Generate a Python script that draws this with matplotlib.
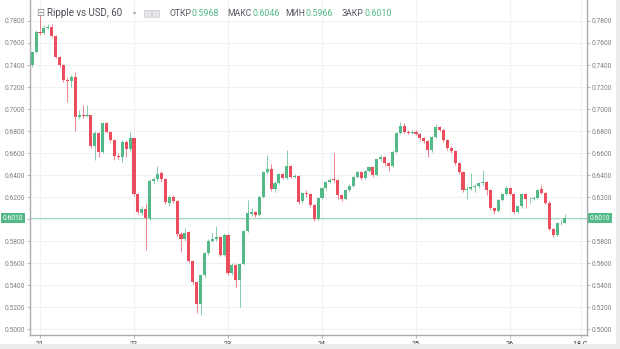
import matplotlib
matplotlib.use("Agg")
import matplotlib.pyplot as plt
import matplotlib.patches as mpatches
import numpy as np

# hourly XRP/USD candles, first bar is 20th 22:00
opens = [
    0.7400, 0.7520, 0.7700, 0.7690, 0.7740, 0.7745, 0.7660, 0.7475, 0.7400, 0.7264,
    0.7255, 0.7294, 0.6925, 0.6945, 0.6940, 0.6945, 0.6666, 0.6780, 0.6612, 0.6870,
    0.6794, 0.6718, 0.6573, 0.6563, 0.6703, 0.6634, 0.6733, 0.6225, 0.6057, 0.6090,
    0.6007, 0.6348, 0.6361, 0.6421, 0.6361, 0.6150, 0.6200, 0.6164, 0.5864, 0.5818,
    0.5885, 0.5621, 0.5430, 0.5227, 0.5491, 0.5688, 0.5803, 0.5815, 0.5834, 0.5673,
    0.5855, 0.5506, 0.5582, 0.5445, 0.5591, 0.5894, 0.6045, 0.6060, 0.6040, 0.6203,
    0.6424, 0.6457, 0.6270, 0.6330, 0.6406, 0.6376, 0.6482, 0.6385, 0.6392, 0.6165,
    0.6236, 0.6227, 0.6127, 0.5997, 0.6188, 0.6279, 0.6339, 0.6365, 0.6355, 0.6218,
    0.6179, 0.6261, 0.6300, 0.6380, 0.6427, 0.6370, 0.6439, 0.6470, 0.6400, 0.6543,
    0.6560, 0.6506, 0.6480, 0.6612, 0.6779, 0.6845, 0.6794, 0.6780, 0.6794, 0.6775,
    0.6733, 0.6712, 0.6627, 0.6743, 0.6840, 0.6810, 0.6718, 0.6643, 0.6620, 0.6506,
    0.6430, 0.6264, 0.6273, 0.6290, 0.6300, 0.6325, 0.6335, 0.6264, 0.6100, 0.6070,
    0.6173, 0.6227, 0.6285, 0.6227, 0.6067, 0.6119, 0.6227, 0.6180, 0.6185, 0.6190,
    0.6270, 0.6240, 0.6150, 0.5910, 0.5855, 0.5960, 0.5968,
]
closes = [
    0.7520, 0.7700, 0.7690, 0.7740, 0.7745, 0.7660, 0.7475, 0.7400, 0.7264, 0.7255,
    0.7294, 0.6925, 0.6945, 0.6940, 0.6945, 0.6666, 0.6780, 0.6612, 0.6870, 0.6794,
    0.6718, 0.6573, 0.6563, 0.6703, 0.6634, 0.6733, 0.6225, 0.6067, 0.6090, 0.6007,
    0.6348, 0.6361, 0.6409, 0.6361, 0.6158, 0.6200, 0.6164, 0.5864, 0.5818, 0.5876,
    0.5621, 0.5430, 0.5227, 0.5491, 0.5688, 0.5803, 0.5815, 0.5834, 0.5673, 0.5855,
    0.5506, 0.5582, 0.5445, 0.5591, 0.5894, 0.6057, 0.6060, 0.6040, 0.6203, 0.6424,
    0.6457, 0.6270, 0.6330, 0.6406, 0.6376, 0.6482, 0.6385, 0.6392, 0.6158, 0.6236,
    0.6227, 0.6127, 0.5997, 0.6188, 0.6279, 0.6339, 0.6355, 0.6355, 0.6218, 0.6179,
    0.6261, 0.6300, 0.6380, 0.6427, 0.6370, 0.6439, 0.6470, 0.6400, 0.6543, 0.6560,
    0.6506, 0.6480, 0.6612, 0.6779, 0.6845, 0.6794, 0.6780, 0.6794, 0.6775, 0.6733,
    0.6712, 0.6627, 0.6743, 0.6840, 0.6810, 0.6718, 0.6643, 0.6620, 0.6506, 0.6430,
    0.6264, 0.6273, 0.6290, 0.6300, 0.6325, 0.6335, 0.6264, 0.6100, 0.6070, 0.6173,
    0.6227, 0.6285, 0.6227, 0.6067, 0.6119, 0.6227, 0.6180, 0.6185, 0.6190, 0.6260,
    0.6240, 0.6150, 0.5910, 0.5855, 0.5960, 0.5968, 0.6010,
]
highs = [
    0.7530, 0.7720, 0.7850, 0.7760, 0.7770, 0.7770, 0.7670, 0.7480, 0.7410, 0.7290,
    0.7310, 0.7340, 0.6990, 0.7040, 0.7035, 0.6950, 0.6800, 0.6790, 0.6880, 0.6880,
    0.6800, 0.6730, 0.6600, 0.6715, 0.6720, 0.6790, 0.6740, 0.6240, 0.6120, 0.6150,
    0.6360, 0.6380, 0.6480, 0.6440, 0.6370, 0.6220, 0.6215, 0.6175, 0.5880, 0.5920,
    0.5890, 0.5630, 0.5440, 0.5500, 0.5700, 0.5820, 0.5870, 0.5936, 0.5850, 0.5870,
    0.5860, 0.5600, 0.5590, 0.5600, 0.5900, 0.6170, 0.6100, 0.6075, 0.6215, 0.6440,
    0.6582, 0.6500, 0.6345, 0.6420, 0.6420, 0.6627, 0.6490, 0.6410, 0.6400, 0.6250,
    0.6260, 0.6240, 0.6140, 0.6200, 0.6290, 0.6350, 0.6370, 0.6600, 0.6365, 0.6230,
    0.6275, 0.6315, 0.6395, 0.6440, 0.6440, 0.6450, 0.6485, 0.6480, 0.6555, 0.6580,
    0.6570, 0.6515, 0.6625, 0.6790, 0.6885, 0.6870, 0.6805, 0.6805, 0.6805, 0.6785,
    0.6745, 0.6720, 0.6755, 0.6860, 0.6850, 0.6820, 0.6725, 0.6660, 0.6630, 0.6515,
    0.6440, 0.6300, 0.6420, 0.6320, 0.6340, 0.6445, 0.6345, 0.6270, 0.6110, 0.6185,
    0.6240, 0.6300, 0.6295, 0.6240, 0.6130, 0.6240, 0.6235, 0.6200, 0.6210, 0.6275,
    0.6310, 0.6250, 0.6160, 0.5920, 0.5970, 0.5990, 0.6046,
]
lows = [
    0.7380, 0.7510, 0.7670, 0.7680, 0.7730, 0.7650, 0.7460, 0.7380, 0.7250, 0.7060,
    0.7200, 0.6800, 0.6910, 0.6920, 0.6930, 0.6650, 0.6540, 0.6560, 0.6600, 0.6780,
    0.6700, 0.6540, 0.6545, 0.6520, 0.6560, 0.6620, 0.6210, 0.6050, 0.6040, 0.5720,
    0.5990, 0.6320, 0.6350, 0.6340, 0.6140, 0.6120, 0.6150, 0.5850, 0.5700, 0.5800,
    0.5600, 0.5410, 0.5146, 0.5130, 0.5470, 0.5670, 0.5790, 0.5800, 0.5660, 0.5660,
    0.5490, 0.5490, 0.5385, 0.5200, 0.5580, 0.5880, 0.6030, 0.6020, 0.6030, 0.6190,
    0.6410, 0.6255, 0.6250, 0.6320, 0.6360, 0.6365, 0.6370, 0.6370, 0.6140, 0.6150,
    0.6200, 0.6110, 0.5985, 0.5990, 0.6180, 0.6260, 0.6330, 0.6340, 0.6180, 0.6160,
    0.6170, 0.6250, 0.6290, 0.6370, 0.6355, 0.6360, 0.6430, 0.6380, 0.6390, 0.6530,
    0.6480, 0.6440, 0.6470, 0.6600, 0.6770, 0.6785, 0.6770, 0.6770, 0.6760, 0.6720,
    0.6690, 0.6560, 0.6610, 0.6735, 0.6800, 0.6700, 0.6630, 0.6600, 0.6490, 0.6410,
    0.6250, 0.6180, 0.6260, 0.6250, 0.6280, 0.6310, 0.6220, 0.6085, 0.6050, 0.6060,
    0.6160, 0.6215, 0.6215, 0.6050, 0.6055, 0.6100, 0.6100, 0.6150, 0.6170, 0.6180,
    0.6230, 0.6140, 0.5900, 0.5840, 0.5845, 0.5950, 0.5966,
]
price_ticks = [0.50, 0.52, 0.54, 0.56, 0.58, 0.60, 0.62, 0.64, 0.66, 0.68, 0.70, 0.72, 0.74, 0.76, 0.78]
day_hours = [0, 24, 48, 72, 96, 120, 138]
day_labels = ["21", "22", "23", "24", "25", "26", "18 C"]
last_price = 0.6010
header = [("ОТКР", "0.5968"), ("МАКС", "0.6046"), ("МИН", "0.5966"), ("ЗАКР", "0.6010")]

UP, DOWN = "#53b987", "#eb4d5c"
GRID = "#f0f1f4"
TXT = "#7b7e86"
plt.rcParams["font.family"] = ["Roboto", "DejaVu Sans"]

o = np.array(opens); c = np.array(closes)
h = np.array(highs); lo = np.array(lows)
hrs = np.arange(len(o)) - 2          # hours since 21st 00:00
up = c >= o
colors = np.where(up, UP, DOWN)

W, H = 620, 349
fig = plt.figure(figsize=(W / 100, H / 100), dpi=100, facecolor="white")
ax = fig.add_axes([30 / W, 14 / H, 557 / W, 335 / H])

# candles: wick + body
ax.vlines(hrs, lo, h, colors=colors, linewidth=0.7, alpha=0.7, zorder=2)
body = np.maximum(np.abs(c - o), 0.0004)
ax.bar(hrs, body, bottom=np.minimum(o, c), width=0.78, color=colors,
       linewidth=0, zorder=3)

# last-price line
ax.axhline(last_price, color=UP, linewidth=0.8, alpha=0.55, zorder=1)

ax.set_xlim(-2.55, 139.65)
ax.set_ylim(0.49455, 0.79909)
ax.set_yticks(price_ticks)
# the 0.6000 label sits under the last-price badge
ax.set_yticklabels(["" if abs(p - last_price) < 0.005 else f"{p:.4f}" for p in price_ticks])
ax.set_xticks(day_hours)
ax.set_xticklabels(day_labels)
ax.grid(True, color=GRID, linewidth=0.8, zorder=0)
ax.set_axisbelow(True)

for s in ("left", "right", "bottom"):
    ax.spines[s].set_color("#a9abb1")
    ax.spines[s].set_linewidth(1.0)
ax.spines["top"].set_visible(False)
ax.tick_params(axis="y", left=True, right=True, labelleft=True, labelright=True,
               length=2, width=0.6, color="#a9abb1", labelsize=4.8, labelcolor=TXT, pad=1.5)
ax.tick_params(axis="x", length=2, width=0.6, color="#a9abb1", labelsize=5.2,
               labelcolor="#333333", pad=2)

# price badges on both scales
for xb in (1, 588):
    fig.text((xb + 1.5) / W, 1 - 218 / H, f"{last_price:.4f}", color="white", fontsize=4.8,
             ha="left", va="center",
             bbox=dict(boxstyle="square,pad=0.25", facecolor=UP, edgecolor="none"))

# header line
ty = 1 - 13 / H
fig.text(36 / W, ty, "⊟", fontsize=7, color="#8a8d94", va="center", family="DejaVu Sans")
fig.text(47 / W, ty, "Ripple vs USD, 60", fontsize=7.0, color="#4a4d55", va="center")
fig.text(133 / W, ty, "▾", fontsize=4.5, color="#a0a3aa", va="center", family="DejaVu Sans")
for bx in (144, 152):
    fig.patches.append(mpatches.Rectangle((bx / W, 1 - 17 / H), 7 / W, 7 / H,
                                          transform=fig.transFigure, facecolor="#e6e7ea",
                                          edgecolor="#c8cacf", linewidth=0.5))
xs = [169, 227, 285, 342]
for x0, (lab, val) in zip(xs, header):
    t = fig.text(x0 / W, ty, lab, fontsize=6.2, color="#555861", va="center")
    fig.canvas.draw()
    bb = t.get_window_extent()
    fig.text((bb.x1 + 1) / W, ty, val, fontsize=6.4, color=UP, va="center")

# frame strips along the bottom and right edge
fig.patches.append(mpatches.Rectangle((0, 0), 1, 5 / H, transform=fig.transFigure,
                                      facecolor="#ebebeb", edgecolor="none"))
fig.patches.append(mpatches.Rectangle((616 / W, 0), 4 / W, 1, transform=fig.transFigure,
                                      facecolor="#ebebeb", edgecolor="none"))

fig.savefig("out.png", dpi=100, facecolor="white")
